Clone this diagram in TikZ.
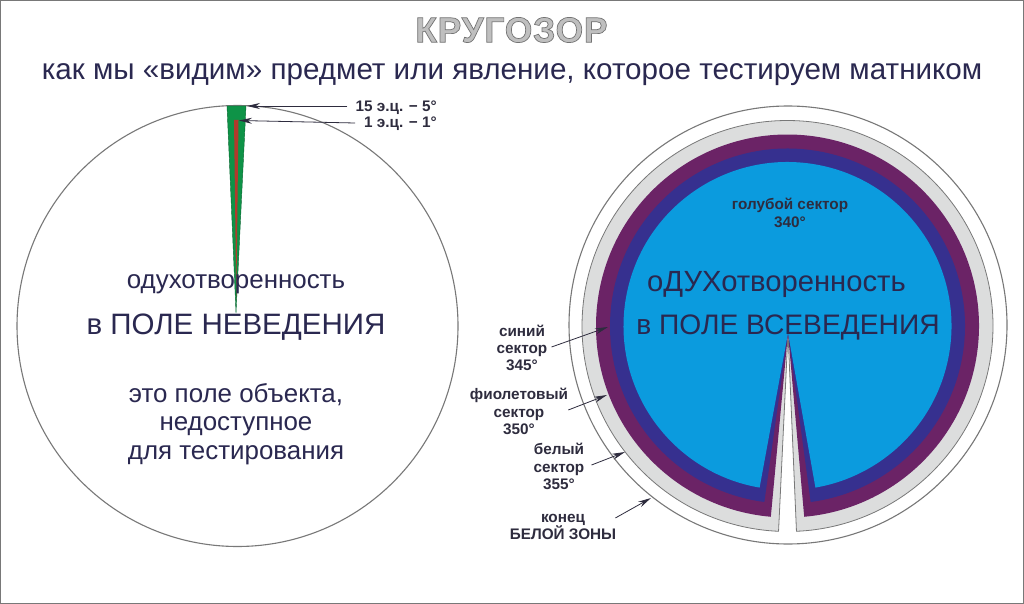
\documentclass[tikz,border=0pt]{standalone}
\usepackage{fontspec}
\setmainfont{Liberation Sans}
\usetikzlibrary{arrows.meta}

\definecolor{skysector}{HTML}{0B9BDE}
\definecolor{bluesector}{HTML}{36308F}
\definecolor{violetsector}{HTML}{6B2366}
\definecolor{whitesector}{HTML}{DCDDDD}
\definecolor{wedgegreen}{HTML}{0E9347}
\definecolor{wedgered}{HTML}{B23A2C}
\definecolor{inktext}{HTML}{2A2850}
\definecolor{smalltext}{HTML}{2E2C3E}
\definecolor{ringline}{HTML}{787878}

\def\leftcircle{(237.5,326) circle (220.5)}
\def\outercircle{(788,325) circle (219)}
\def\ringsector#1#2{(787.5,326) ++(90+#1:#2) arc[start angle=90+#1,end angle=450-#1,radius=#2] -- (788,333) -- cycle}

\tikzset{
    bigtext/.style={text=inktext,align=center,inner sep=0pt,font=\fontsize{25.9}{28.5}\selectfont},
    hugetext/.style={text=inktext,inner sep=0pt,font=\fontsize{29.5}{32}\selectfont},
    smalllabel/.style={text=smalltext,align=center,inner sep=1pt,font=\bfseries\fontsize{15.3}{17.3}\selectfont},
    labelarrow/.style={draw=smalltext,line width=0.8pt,-{Stealth[length=13pt,width=6pt]}}
}

\begin{document}
\begin{tikzpicture}[x=1pt,y=-1pt]
    \useasboundingbox (0,0) rectangle (1024,604);
    \fill[white] (0,0) rectangle (1024,604);
    \draw[ringline,line width=2.5pt] (0,0) rectangle (1024,604);

    %% Draw the left circle and its wedge
    \draw[ringline,line width=1.1pt] \leftcircle;
    \filldraw[fill=wedgegreen,draw=wedgegreen!70!black,line width=0.4pt] (227,106) -- (246,106) -- (236,313) -- cycle;
    \fill[wedgered] (234,120) -- (238.5,120) -- (236.3,300) -- cycle;

    %% Draw the right circle
    \draw[ringline,line width=1.1pt] \outercircle;
    \filldraw[fill=whitesector,draw=ringline,line width=0.8pt] \ringsector{2.5}{205.5};
    \fill[violetsector] \ringsector{5}{191.5};
    \fill[bluesector] \ringsector{7.5}{177.5};
    \fill[skysector] \ringsector{9.8}{164};

    %% Draw the headings
    \draw (511.5,30) node (heading) {\bfseries\fontsize{35.5}{36}\selectfont\addfontfeature{LetterSpace=2}\special{pdf:literal direct 2 Tr 0.7 w 0.45 G 0.75 g}КРУГОЗОР\special{pdf:literal direct 0 Tr 0 g 0 G}};
    \draw (512,75) node[text=inktext,inner sep=0pt,font=\fontsize{29.6}{30}\selectfont] (subheading) {как мы «видим» предмет или явление, которое тестируем матником};

    %% Texts of the left circle
    \draw (236,284) node[bigtext] (leftspirit) {одухотворенность};
    \draw (236,327) node[hugetext] (leftfield) {в ПОЛЕ НЕВЕДЕНИЯ};
    \draw (236,424) node[bigtext] (leftnote) {это поле объекта,\\недоступное\\для тестирования};

    %% Texts of the right circle
    \draw (776.5,284) node[bigtext,font=\fontsize{29.2}{30}\selectfont] (rightspirit) {оДУХотворенность};
    \draw (788,327) node[hugetext,font=\fontsize{28.2}{32}\selectfont] (rightfield) {в ПОЛЕ ВСЕВЕДЕНИЯ};
    \draw (790,213) node[smalllabel] (skylabel) {голубой сектор\\340°};

    %% Labels with arrows
    \draw (438,108) node[smalllabel,anchor=east] (widelabel) {15 э.ц. − 5°};
    \draw (438,124) node[smalllabel,anchor=east] (narrowlabel) {1 э.ц. − 1°};
    \draw (522,348) node[smalllabel] (bluelabel) {синий\\сектор\\345°};
    \draw (519,411.5) node[smalllabel] (violetlabel) {фиолетовый\\сектор\\350°};
    \draw (559,466.5) node[smalllabel] (whitelabel) {белый\\сектор\\355°};
    \draw (563,527) node[smalllabel] (endlabel) {конец\\БЕЛОЙ ЗОНЫ};

    \coordinate (wideend) at (247,106);
    \coordinate (narrowend) at (239,120.5);
    \coordinate (blueend) at (608,327);
    \coordinate (violetend) at (607,395);
    \coordinate (whiteend) at (625,452);
    \coordinate (endend) at (651,498);

    \draw[labelarrow] (widelabel.west) ++(-7,-2) -- (wideend);
    \draw[labelarrow] (narrowlabel.west) ++(-8,-1) -- (narrowend);
    \draw[labelarrow] (bluelabel.east) ++(3,-1) -- (blueend);
    \draw[labelarrow] (violetlabel.east) ++(-1,-1.5) -- (violetend);
    \draw[labelarrow] (whitelabel.east) ++(6,-1.5) -- (whiteend);
    \draw[labelarrow] (endlabel.north east) ++(-2,5) -- (endend);
\end{tikzpicture}
\end{document}
